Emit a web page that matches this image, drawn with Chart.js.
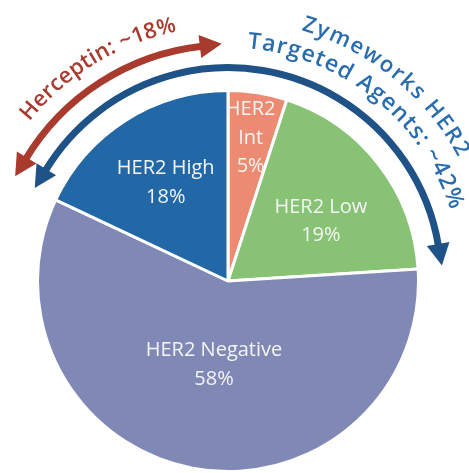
<!DOCTYPE html>
<html>
<head>
<meta charset="utf-8">
<script src="https://cdn.jsdelivr.net/npm/chart.js@4.4.0/dist/chart.umd.min.js"></script>
<style>
    html, body { margin: 0; padding: 0; background: #ffffff; }
    #caja { width: 469px; height: 473px; position: relative; }
</style>
</head>
<body>
<div id="caja"><canvas id="graficoHer2"></canvas></div>
<script>
// datos del grafico
const categorias = ["HER2 Int", "HER2 Low", "HER2 Negative", "HER2 High"];
const valores = [5, 19, 58, 18];
const etiquetas = [["HER2", "Int", "5%"], ["HER2 Low", "19%"], ["HER2 Negative", "58%"], ["HER2 High", "18%"]];
const textoHerceptin = ["Herceptin: ~18%"];
const textoZymeworks = ["Zymeworks HER2", "Targeted Agents: ~42%"];
const tramoHerceptin = [3];        // indices de las porciones que abarca cada flecha
const tramoZymeworks = [3, 0, 1];

const colores = ["#ec8a72", "#88c274", "#8089b6", "#2268a6"];

// estilo de las etiquetas dentro de las porciones
const radioEtiqueta = [0.76, 0.58, 0.445, 0.61];
const giroEtiqueta = [0, 5, -1.3, 0];

const aRad = g => g * Math.PI / 180;

function textoCurvo(ctx, texto, cx, cy, r, medio, espacio) {
    const letras = [...texto];
    const anchos = letras.map(c => ctx.measureText(c).width);
    const total = anchos.reduce((a, b) => a + b, 0) + espacio * (letras.length - 1);
    let ang = medio - total / r / 2;
    letras.forEach((c, i) => {
        const a = ang + anchos[i] / 2 / r;
        ctx.save();
        ctx.translate(cx + r * Math.cos(a), cy + r * Math.sin(a));
        ctx.rotate(a + Math.PI / 2);
        ctx.fillText(c, 0, 0);
        ctx.restore();
        ang += (anchos[i] + espacio) / r;
    });
}

function flechaCurva(ctx, cx, cy, r, ini, fin, color) {
    const largo = 22, medio = 11.5;
    const aIni = ini + largo / r;
    const aFin = fin - largo / r;
    ctx.save();
    ctx.strokeStyle = color;
    ctx.fillStyle = color;
    ctx.lineWidth = 7;
    ctx.beginPath();
    ctx.arc(cx, cy, r, aIni - 0.01, aFin + 0.01);
    ctx.stroke();
    // puntas
    [[aFin, 1], [aIni, -1]].forEach(([a, s]) => {
        const bx = cx + r * Math.cos(a), by = cy + r * Math.sin(a);
        const tx = -Math.sin(a) * s, ty = Math.cos(a) * s;
        const nx = Math.cos(a), ny = Math.sin(a);
        ctx.beginPath();
        ctx.moveTo(bx + nx * medio, by + ny * medio);
        ctx.lineTo(bx + tx * largo, by + ty * largo);
        ctx.lineTo(bx - nx * medio, by - ny * medio);
        ctx.closePath();
        ctx.fill();
    });
    ctx.restore();
}

function limites(arcos, tramo) {
    const p = arcos[tramo[0]].getProps(["startAngle"], true);
    const u = arcos[tramo[tramo.length - 1]].getProps(["endAngle"], true);
    let ini = p.startAngle, fin = u.endAngle;
    if (ini > fin) ini -= 2 * Math.PI;
    return [ini, fin];
}

const extras = {
    id: "extras",
    afterDatasetsDraw(chart) {
        const ctx = chart.ctx;
        const arcos = chart.getDatasetMeta(0).data;
        const { x: cx, y: cy, outerRadius: R } = arcos[0].getProps(["x", "y", "outerRadius"], true);

        // etiquetas
        ctx.save();
        ctx.fillStyle = "#f4f4f4";
        ctx.font = "20px 'Open Sans'";
        ctx.textAlign = "center";
        ctx.textBaseline = "middle";
        arcos.forEach((arco, i) => {
            const { startAngle, endAngle } = arco.getProps(["startAngle", "endAngle"], true);
            const a = (startAngle + endAngle) / 2 + aRad(giroEtiqueta[i]);
            const px = cx + R * radioEtiqueta[i] * Math.cos(a);
            const py = cy + R * radioEtiqueta[i] * Math.sin(a);
            const lineas = etiquetas[i];
            const alto = 28.5;
            lineas.forEach((t, j) => {
                ctx.fillText(t, px, py + (j - (lineas.length - 1) / 2) * alto);
            });
        });
        ctx.restore();

        // flechas
        const [hIni, hFin] = limites(arcos, tramoHerceptin);
        const [zIni, zFin] = limites(arcos, tramoZymeworks);
        flechaCurva(ctx, cx, cy, R * 1.24, hIni + aRad(1), hFin - aRad(1.5), "#a83b2e");
        flechaCurva(ctx, cx, cy, R * 1.12, zIni + aRad(0.5), zFin - aRad(0.5), "#1f5286");

        // textos curvos
        ctx.save();
        ctx.textAlign = "center";
        ctx.textBaseline = "middle";
        ctx.font = "600 22px 'Open Sans'";
        ctx.fillStyle = "#a83b2e";
        textoCurvo(ctx, textoHerceptin[0], cx, cy, R * 1.37, (hIni + hFin) / 2 + aRad(1), 0.5);
        ctx.fillStyle = "#2a6dae";
        textoCurvo(ctx, textoZymeworks[0], cx, cy, R * 1.405, aRad(39 - 90), 2.2);
        ctx.font = "600 23px 'Open Sans'";
        textoCurvo(ctx, textoZymeworks[1], cx, cy, R * 1.26, aRad(38.5 - 90), 1.5);
        ctx.restore();
    }
};

new Chart(document.getElementById("graficoHer2"), {
    type: "pie",
    data: {
        labels: categorias,
        datasets: [{
            data: valores,
            backgroundColor: colores,
            borderColor: "#ffffff",
            borderWidth: 3
        }]
    },
    options: {
        responsive: true,
        maintainAspectRatio: false,
        animation: false,
        layout: {
            padding: { left: 36, right: 49, top: 89, bottom: 0 }
        },
        plugins: {
            legend: { display: false },
            tooltip: { enabled: false }
        }
    },
    plugins: [extras]
});
</script>
</body>
</html>
